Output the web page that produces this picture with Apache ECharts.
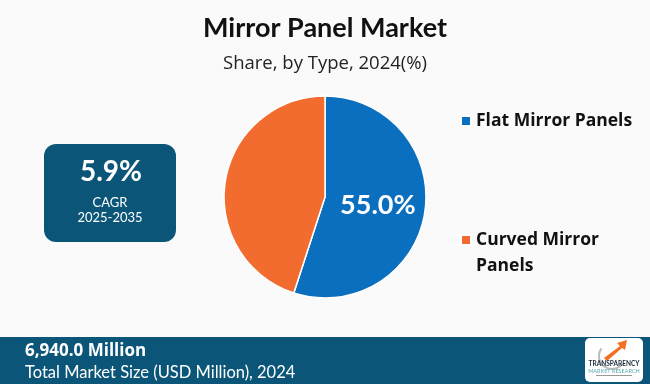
<!DOCTYPE html>
<html><head><meta charset="utf-8">
<script src="https://cdn.jsdelivr.net/npm/echarts@6/dist/echarts.min.js"></script>
<style>html,body{margin:0;padding:0;background:#fafafa}#c{width:650px;height:384px}</style>
</head><body><div id="c"></div>
<script>
const categories = ['Flat Mirror Panels', 'Curved Mirror Panels'];
const shares = [55.0, 45.0];
const colors = ['#0B6FBF', '#F36C2F'];
const titleText = 'Mirror Panel Market';
const subtitleText = 'Share, by Type, 2024(%)';
const cagrValue = '5.9%';
const cagrLabel = 'CAGR';
const cagrPeriod = '2025-2035';
const marketSize = '6,940.0 Million';
const marketLabel = 'Total Market Size (USD Million), 2024';

const FONT = 'Lato, "Noto Sans", sans-serif';
const OS = '"Open Sans", sans-serif';
const dark = '#0B5678';
const chart = echarts.init(document.getElementById('c'));
const legendText = {fontFamily: OS, fontWeight: 'bold', fontSize: 17.5, color: '#111', lineHeight: 26};
chart.setOption({
  backgroundColor: '#fafafa',
  animation: false,
  title: [
    {text: titleText, left: 'center', top: 10, textStyle: {fontFamily: FONT, fontWeight: 'bold', fontSize: 27, color: '#111'}},
    {text: subtitleText, left: 'center', top: 49, textStyle: {fontFamily: OS, fontWeight: 'normal', fontSize: 18.5, color: '#222'}}
  ],
  legend: [
    {data: [categories[0]], orient: 'vertical', left: 460, top: 108, itemWidth: 10, itemHeight: 10, icon: 'rect', itemGap: 0, padding: 0,
     textStyle: legendText},
    {data: [categories[1]], orient: 'vertical', left: 460, top: 201, itemWidth: 10, itemHeight: 10, icon: 'rect', itemGap: 0, padding: 0,
     formatter: n => '\n' + n.replace(' Panels', '\nPanels'),
     textStyle: legendText}
  ],
  series: [{
    type: 'pie', center: [325, 197], radius: [0, 101], startAngle: 90, clockwise: true,
    itemStyle: {borderColor: '#fff', borderWidth: 1.5},
    label: {show: true, position: 'inside', fontFamily: FONT, fontWeight: 'bold', fontSize: 27, color: '#fff',
      formatter: p => p.dataIndex === 0 ? p.value.toFixed(1) + '%' : ''},
    labelLine: {show: false},
    emphasis: {disabled: true},
    data: categories.map((c, i) => ({name: c, value: shares[i], itemStyle: {color: colors[i]}}))
  }],
  graphic: [
    {type: 'rect', shape: {x: 44, y: 144, width: 132, height: 98, r: 12}, style: {fill: dark}},
    {type: 'text', x: 111, y: 172, style: {text: cagrValue, fill: '#fff', font: 'bold 28px ' + FONT, align: 'center', verticalAlign: 'middle'}},
    {type: 'text', x: 110, y: 203, style: {text: cagrLabel, fill: '#fff', font: '13px ' + FONT, align: 'center', verticalAlign: 'middle'}},
    {type: 'text', x: 110, y: 218, style: {text: cagrPeriod, fill: '#fff', font: '13px ' + FONT, align: 'center', verticalAlign: 'middle'}},
    {type: 'rect', shape: {x: 0, y: 337, width: 650, height: 47}, style: {fill: dark}},
    {type: 'text', x: 25, y: 351, style: {text: marketSize, fill: '#fff', font: 'bold 17px ' + OS, verticalAlign: 'middle'}},
    {type: 'text', x: 25, y: 373, style: {text: marketLabel, fill: '#fff', font: '16.5px ' + FONT, verticalAlign: 'middle'}},
    {type: 'rect', shape: {x: 585, y: 338, width: 58, height: 44, r: 5}, style: {fill: '#fff'}},
    {type: 'arc', shape: {cx: 612, cy: 356, r: 13, startAngle: Math.PI * 0.2, endAngle: Math.PI * 1.2}, style: {stroke: '#bbb', lineWidth: 2, fill: null}},
    {type: 'polygon', shape: {points: [[604, 358], [620, 346], [617, 343], [627, 340], [625, 350], [622, 348], [607, 361]]}, style: {fill: '#F37021'}},
    {type: 'text', x: 614, y: 364, style: {text: 'TRANSPARENCY', fill: '#1a2a3a', font: 'bold 6.5px ' + FONT, align: 'center', verticalAlign: 'middle'}},
    {type: 'text', x: 614, y: 371, style: {text: 'MARKET RESEARCH', fill: '#5aa9b5', font: '5.5px ' + FONT, align: 'center', verticalAlign: 'middle'}},
    {type: 'rect', shape: {x: 596, y: 375, width: 36, height: 1}, style: {fill: '#999'}}
  ]
});
</script></body></html>
